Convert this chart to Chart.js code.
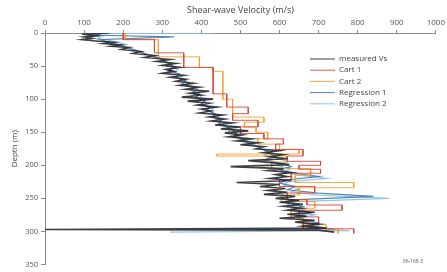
<!DOCTYPE html>
<html>
<head>
<title>Shear-wave velocity profile</title>
<script src="https://cdn.jsdelivr.net/npm/chart.js"></script>
<style>
  body { margin: 0; background: #fff; }
  #chart { display: block; }
</style>
</head>
<body>
<canvas id="chart" width="447" height="272"></canvas>
<script>
// measured and regression profiles: one velocity (m/s) per depth (m)
var measDepth = [0,2,4,6,8,10,12,14,16,18,20,22,25,28,31,34,37,40,43,46,49,52,55,58,61,64,67,70,73,76,79,82,85,88,91,94,97,100,103,106,109,112,115,118,121,124,127,130,133,136,139,142,145,148,151,154,157,160,163,166,169,172,175,178,181,184,187,190,193,196,199,202,205,208,211,214,217,220,223,226,229,232,235,238,241,244,247,250,253,256,259,262,265,268,271,274,277,280,283,286,289,292,295,297,298,301];
var measVel = [165,95,140,100,120,95,130,175,150,195,170,215,195,245,225,280,255,320,285,335,300,345,310,330,300,355,320,360,335,380,345,395,360,420,370,400,350,430,365,420,390,440,400,425,395,455,420,460,425,480,435,500,450,520,460,505,470,530,490,545,500,560,540,600,560,610,575,620,520,580,625,475,610,570,630,590,620,575,630,490,600,550,615,570,620,560,640,590,650,600,660,610,655,620,690,620,670,600,690,640,700,660,720,0,700,740];

var reg1Depth = [0,3,6,10,14,18,22,27,32,37,42,47,52,57,62,67,72,77,82,87,92,97,102,107,112,117,122,127,132,137,142,147,152,157,162,167,172,177,182,187,192,197,202,207,212,217,222,227,232,237,242,247,252,257,262,267,272,277,282,287,292,297];
var reg1Vel = [120,110,330,140,165,190,210,235,260,290,305,320,330,315,345,335,360,350,380,375,395,385,410,400,420,415,435,430,450,445,470,480,490,485,510,520,545,560,575,590,560,605,630,600,640,700,620,600,640,620,700,840,650,620,660,630,680,640,660,700,680,740];

var reg2Depth = [0,1,4,8,12,16,20,25,30,35,40,45,50,55,60,65,70,75,80,85,90,95,100,105,110,115,120,125,130,135,140,145,150,155,160,165,170,175,180,185,190,195,200,205,210,215,220,225,230,235,240,245,250,255,260,265,270,275,280,285,290,295,299,301];
var reg2Vel = [430,120,150,135,170,200,185,230,250,275,300,310,325,340,330,350,345,370,360,390,380,400,395,415,410,430,425,445,440,460,455,475,470,495,505,525,540,555,580,560,600,620,590,630,610,650,720,620,610,650,630,700,880,640,620,670,640,690,650,680,700,690,780,320];

// CART models: layer tops (m) and layer velocities; each layer ends at the next top
var cart1Depth = [0,10,30,52,92,112,122,132,142,152,160,168,176,186,194,200,206,212,222,232,242,252,260,268,278,288,296];
var cart1Vel = [200,280,355,430,465,520,480,545,500,560,610,590,660,620,705,650,705,630,600,690,620,670,760,650,700,660,790];
var cart1Bottom = 303;

var cart2Depth = [0,10,36,52,58,100,127,135,142,150,160,168,176,183,186,195,205,215,226,234,245,255,265,280,290,298];
var cart2Vel = [205,290,395,430,455,480,560,510,540,570,545,600,650,440,620,580,680,640,790,650,605,690,630,660,720,750];
var cart2Bottom = 303;

var velTicks = [0,100,200,300,400,500,600,700,800,900,1000];
var depthTicks = [0,50,100,150,200,250,300,350];

function profile(depth, vel) {
  return depth.map(function(d, i) { return {x: vel[i], y: d}; });
}

function steps(depth, vel, bottom) {
  var pts = [];
  for (var i = 0; i < depth.length; i++) {
    var next = i + 1 < depth.length ? depth[i + 1] : bottom;
    pts.push({x: vel[i], y: depth[i]});
    pts.push({x: vel[i], y: next});
  }
  return pts;
}

function series(label, pts, color, width) {
  return {
    label: label, data: pts, showLine: true, borderColor: color,
    backgroundColor: color, borderWidth: width, pointRadius: 0, tension: 0
  };
}

var legendBox = {
  id: 'legendBox',
  afterDraw: function(chart) {
    var ctx = chart.ctx;
    ctx.save();
    ctx.font = '8px "Open Sans"';
    ctx.textBaseline = 'middle';
    chart.data.datasets.forEach(function(ds, i) {
      var y = 59 + i * 11.2;
      ctx.strokeStyle = ds.borderColor;
      ctx.lineWidth = 1;
      ctx.beginPath();
      ctx.moveTo(310, y);
      ctx.lineTo(335, y);
      ctx.stroke();
      ctx.fillStyle = '#444';
      ctx.fillText(ds.label, 339, y);
    });
    ctx.fillStyle = '#555';
    ctx.font = '5px "Open Sans"';
    ctx.textAlign = 'center';
    ctx.fillText('06-168-3', 413, 262);
    ctx.restore();
  }
};

var axisColor = '#8a8a8a';
var plain = function(v) { return String(v); };

new Chart(document.getElementById('chart').getContext('2d'), {
  type: 'scatter',
  data: {
    datasets: [
      series('measured Vs', profile(measDepth, measVel), 'rgba(40,40,45,0.9)', 1.6),
      series('Cart 1', steps(cart1Depth, cart1Vel, cart1Bottom), 'rgba(214,72,58,0.9)', 1),
      series('Cart 2', steps(cart2Depth, cart2Vel, cart2Bottom), 'rgba(242,162,48,0.9)', 1),
      series('Regression 1', profile(reg1Depth, reg1Vel), 'rgba(70,120,170,0.9)', 1.2),
      series('Regression 2', profile(reg2Depth, reg2Vel), 'rgba(135,195,230,0.95)', 1.2)
    ]
  },
  options: {
    responsive: false,
    animation: false,
    layout: { padding: { left: 0, right: 11, top: 0, bottom: 5 } },
    plugins: { legend: { display: false }, tooltip: { enabled: false } },
    scales: {
      x: {
        type: 'linear', position: 'top', min: 0, max: 1000,
        afterBuildTicks: function(s) { s.ticks = velTicks.map(function(v) { return {value: v}; }); },
        afterFit: function(s) { s.height = 33; },
        border: { color: axisColor, width: 1 },
        grid: { drawOnChartArea: false, color: axisColor, tickLength: 3 },
        ticks: { color: '#555', font: { family: 'Open Sans', size: 8 }, padding: 2, maxRotation: 0, callback: plain },
        title: { display: true, text: 'Shear-wave Velocity (m/s)', color: '#444',
                 font: { family: 'Open Sans', size: 9 }, padding: { top: 5, bottom: 0 } }
      },
      y: {
        type: 'linear', reverse: true, min: 0, max: 350,
        afterBuildTicks: function(s) { s.ticks = depthTicks.map(function(v) { return {value: v}; }); },
        afterFit: function(s) { s.width = 45; },
        border: { color: axisColor, width: 1 },
        grid: { drawOnChartArea: false, color: axisColor, tickLength: 4 },
        ticks: { color: '#555', font: { family: 'Open Sans', size: 7.5 }, padding: 3, callback: plain },
        title: { display: true, text: 'Depth (m)', color: '#444',
                 font: { family: 'Open Sans', size: 8 }, padding: { top: 10, bottom: 0 } }
      }
    }
  },
  plugins: [legendBox]
});
</script>
</body>
</html>
